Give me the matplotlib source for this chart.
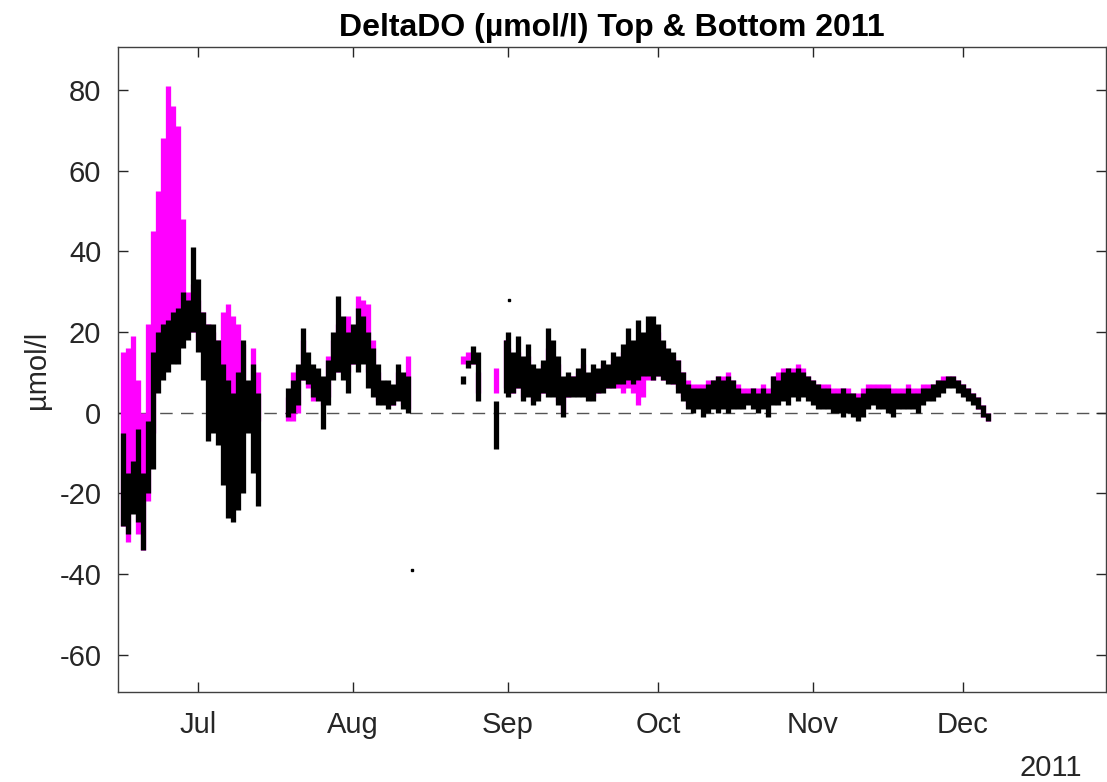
import datetime as dt
import matplotlib
matplotlib.use('Agg')
import matplotlib.pyplot as plt

plt.rcParams['font.family'] = ['Liberation Sans', 'DejaVu Sans']
plt.rcParams['axes.unicode_minus'] = False

# day offsets counted from 15 Jun 2011, values in umol/l (daily low / high)
jun_days = list(range(1, 29))
jun_top_lo = [-28, -32, -20, -30, -34, -22, -5, 12, 18, 20, 22, 20, 22, 20,
              20, 18, 15, 10, 8, 5, 0, 2, -5, 0, 3, 0, -1, -2]
jun_top_hi = [15, 16, 19, 8, 0, 22, 45, 55, 68, 81, 76, 71, 48, 30,
              32, 28, 25, 22, 20, 18, 25, 27, 24, 22, 17, 5, 16, 10]
jun_bot_lo = [-28, -30, -25, -27, -34, -20, -14, 5, 8, 10, 12, 12, 16, 18,
              20, 15, 8, -7, -5, -8, -18, -26, -27, -24, -20, -5, -15, -23]
jun_bot_hi = [-5, -15, -12, -4, -15, -2, 15, 20, 22, 23, 25, 26, 30, 28,
              41, 33, 25, 22, 22, 18, 12, 8, 5, 10, 18, 8, 12, 5]

aug_days = list(range(34, 59))
aug_top_lo = [-2, -2, 0, 8, 6, 3, 4, 2, 4, 10, 10, 12, 10, 12, 15, 14, 10,
              6, 3, 3, 2, 2, 4, 2, 1]
aug_top_hi = [4, 10, 11, 18, 12, 10, 9, 8, 14, 18, 22, 22, 24, 20, 29, 28, 27,
              18, 10, 7, 7, 6, 10, 9, 14]
aug_bot_lo = [-1, 0, 2, 8, 7, 4, 3, -4, 2, 8, 10, 8, 5, 12, 10, 12, 6,
              4, 2, 2, 1, 2, 3, 1, 0]
aug_bot_hi = [6, 8, 12, 21, 15, 12, 11, 9, 13, 20, 29, 24, 20, 22, 26, 24, 20,
              16, 12, 8, 8, 7, 12, 10, 9]

late_days = [69, 70, 71, 72, 75.5]
late_top_lo = [12, 13, 12, 5, 5]
late_top_hi = [14, 15, 15, 10, 11]
late_bot_lo = [7, 11, 12, 3, -9]
late_bot_hi = [9, 13, 16.5, 15, 3]

fall_days = [77.5] + list(range(78, 175))
fall_top_lo = [6, 5, 5, 6, 4, 5, 3, 4, 5, 5, 5, 3, 0, 4, 5, 5, 5, 4, 4, 5, 6,
               6, 6, 6, 5, 6, 5, 2, 4, 8, 8, 9, 8, 8, 7, 6, 4, 2, 2, 2, 2, 2,
               2, 3, 3, 3, 3, 3, 3, 3, 3, 3, 3, 2, 3, 4, 4, 4, 5, 5, 5, 4, 3,
               2, 2, 2, 1, 1, 1, 1, 0, 0, 1, 2, 3, 3, 2, 2, 2, 2, 2, 2, 2, 2,
               3, 4, 4, 5, 6, 7, 7, 6, 5, 4, 3, 1, -1, -2]
fall_top_hi = [18, 16, 13, 15, 12, 14, 11, 10, 12, 16, 14, 12, 8, 9, 9, 10,
               12, 9, 10, 10, 12, 11, 13, 13, 15, 17, 16, 18, 18, 20, 21, 20,
               17, 15, 14, 13, 10, 8, 7, 7, 7, 8, 8, 9, 9, 10, 8, 7, 6, 6, 6,
               6, 7, 6, 9, 10, 11, 11, 11, 12, 11, 9, 8, 7, 7, 7, 6, 6, 6, 6,
               5, 5, 6, 7, 7, 7, 7, 7, 6, 6, 6, 7, 6, 6, 7, 7, 7, 8, 9, 9, 9,
               8, 7, 6, 5, 4, 2, 0]
fall_bot_lo = [5, 4, 5, 6, 3, 4, 2, 3, 5, 4, 4, 2, -1, 4, 4, 4, 4, 3, 3, 5, 5,
               6, 6, 7, 7, 8, 7, 8, 9, 9, 8, 9, 8, 7, 7, 5, 3, 1, 0, 1, -1, 0,
               1, 0, 1, 0, 1, 1, 1, 2, 1, 0, 1, -1, 2, 2, 3, 2, 4, 3, 4, 3, 2,
               1, 1, 1, 0, 0, -1, 0, -1, -2, -1, 1, 2, 1, 1, 0, -1, 1, 1, 1, 1,
               0, 2, 3, 3, 4, 5, 6, 6, 5, 4, 3, 2, 1, -1, -2]
fall_bot_hi = [18, 20, 15, 19, 14, 17, 12, 11, 13, 21, 18, 14, 9, 10, 9, 11,
               16, 10, 12, 11, 13, 12, 15, 14, 17, 21, 18, 23, 20, 24, 24, 22,
               18, 16, 15, 13, 10, 7, 6, 6, 6, 7, 8, 9, 8, 9, 8, 6, 5, 5, 6,
               5, 6, 5, 9, 8, 10, 11, 10, 11, 10, 9, 8, 7, 6, 6, 5, 5, 6, 5,
               5, 4, 5, 6, 6, 6, 6, 6, 5, 5, 5, 6, 5, 5, 6, 6, 7, 8, 8, 9, 9,
               8, 7, 6, 5, 4, 2, 0]

# isolated bottom-sensor readings
stray_days = [58.8, 78.2]
stray_vals = [-39, 28]

start = dt.datetime(2011, 6, 15)
month_ticks = [dt.datetime(2011, m, 1) for m in range(7, 13)]
month_names = ['Jul', 'Aug', 'Sep', 'Oct', 'Nov', 'Dec']

segments = [
    (jun_days, jun_top_lo, jun_top_hi, jun_bot_lo, jun_bot_hi),
    (aug_days, aug_top_lo, aug_top_hi, aug_bot_lo, aug_bot_hi),
    (late_days, late_top_lo, late_top_hi, late_bot_lo, late_bot_hi),
    (fall_days, fall_top_lo, fall_top_hi, fall_bot_lo, fall_bot_hi),
]


def to_dates(days):
    return [start + dt.timedelta(days=d) for d in days]


fig = plt.figure(figsize=(11.07, 7.82), dpi=100)
ax = fig.add_axes([0.1066, 0.1151, 0.8925, 0.8248])

for days, tlo, thi, blo, bhi in segments:
    ax.vlines(to_dates(days), tlo, thi, color='#ff00ff', lw=3.8)
for days, tlo, thi, blo, bhi in segments:
    ax.vlines(to_dates(days), blo, bhi, color='black', lw=3.8)
ax.plot(to_dates(stray_days), stray_vals, 's', color='black', ms=2)

ax.axhline(0, color='#555555', lw=1.0, ls=(0, (9, 6)), zorder=0.5)

ax.set_xlim(start, start + dt.timedelta(days=197.6))
ax.set_ylim(-69.2, 90.6)
ax.set_xticks(month_ticks)
ax.set_xticklabels(month_names)
ax.set_yticks(range(-60, 81, 20))

ax.tick_params(direction='in', length=7, width=1, colors='#262626',
               labelsize=21, top=True, right=True)
ax.tick_params(axis='x', pad=14)
ax.tick_params(axis='y', pad=12)
for s in ax.spines.values():
    s.set_color('#404040')
    s.set_linewidth(1.0)

ax.set_title('DeltaDO (µmol/l) Top & Bottom 2011', fontsize=23,
             fontweight='bold', pad=8)
ax.set_ylabel('µmol/l', fontsize=21, color='#262626', labelpad=6)
fig.text(1082 / 1107, 1 - 776 / 782, '2011', ha='right', va='baseline',
         fontsize=21, color='#262626')

fig.savefig('out.png', dpi=100)
